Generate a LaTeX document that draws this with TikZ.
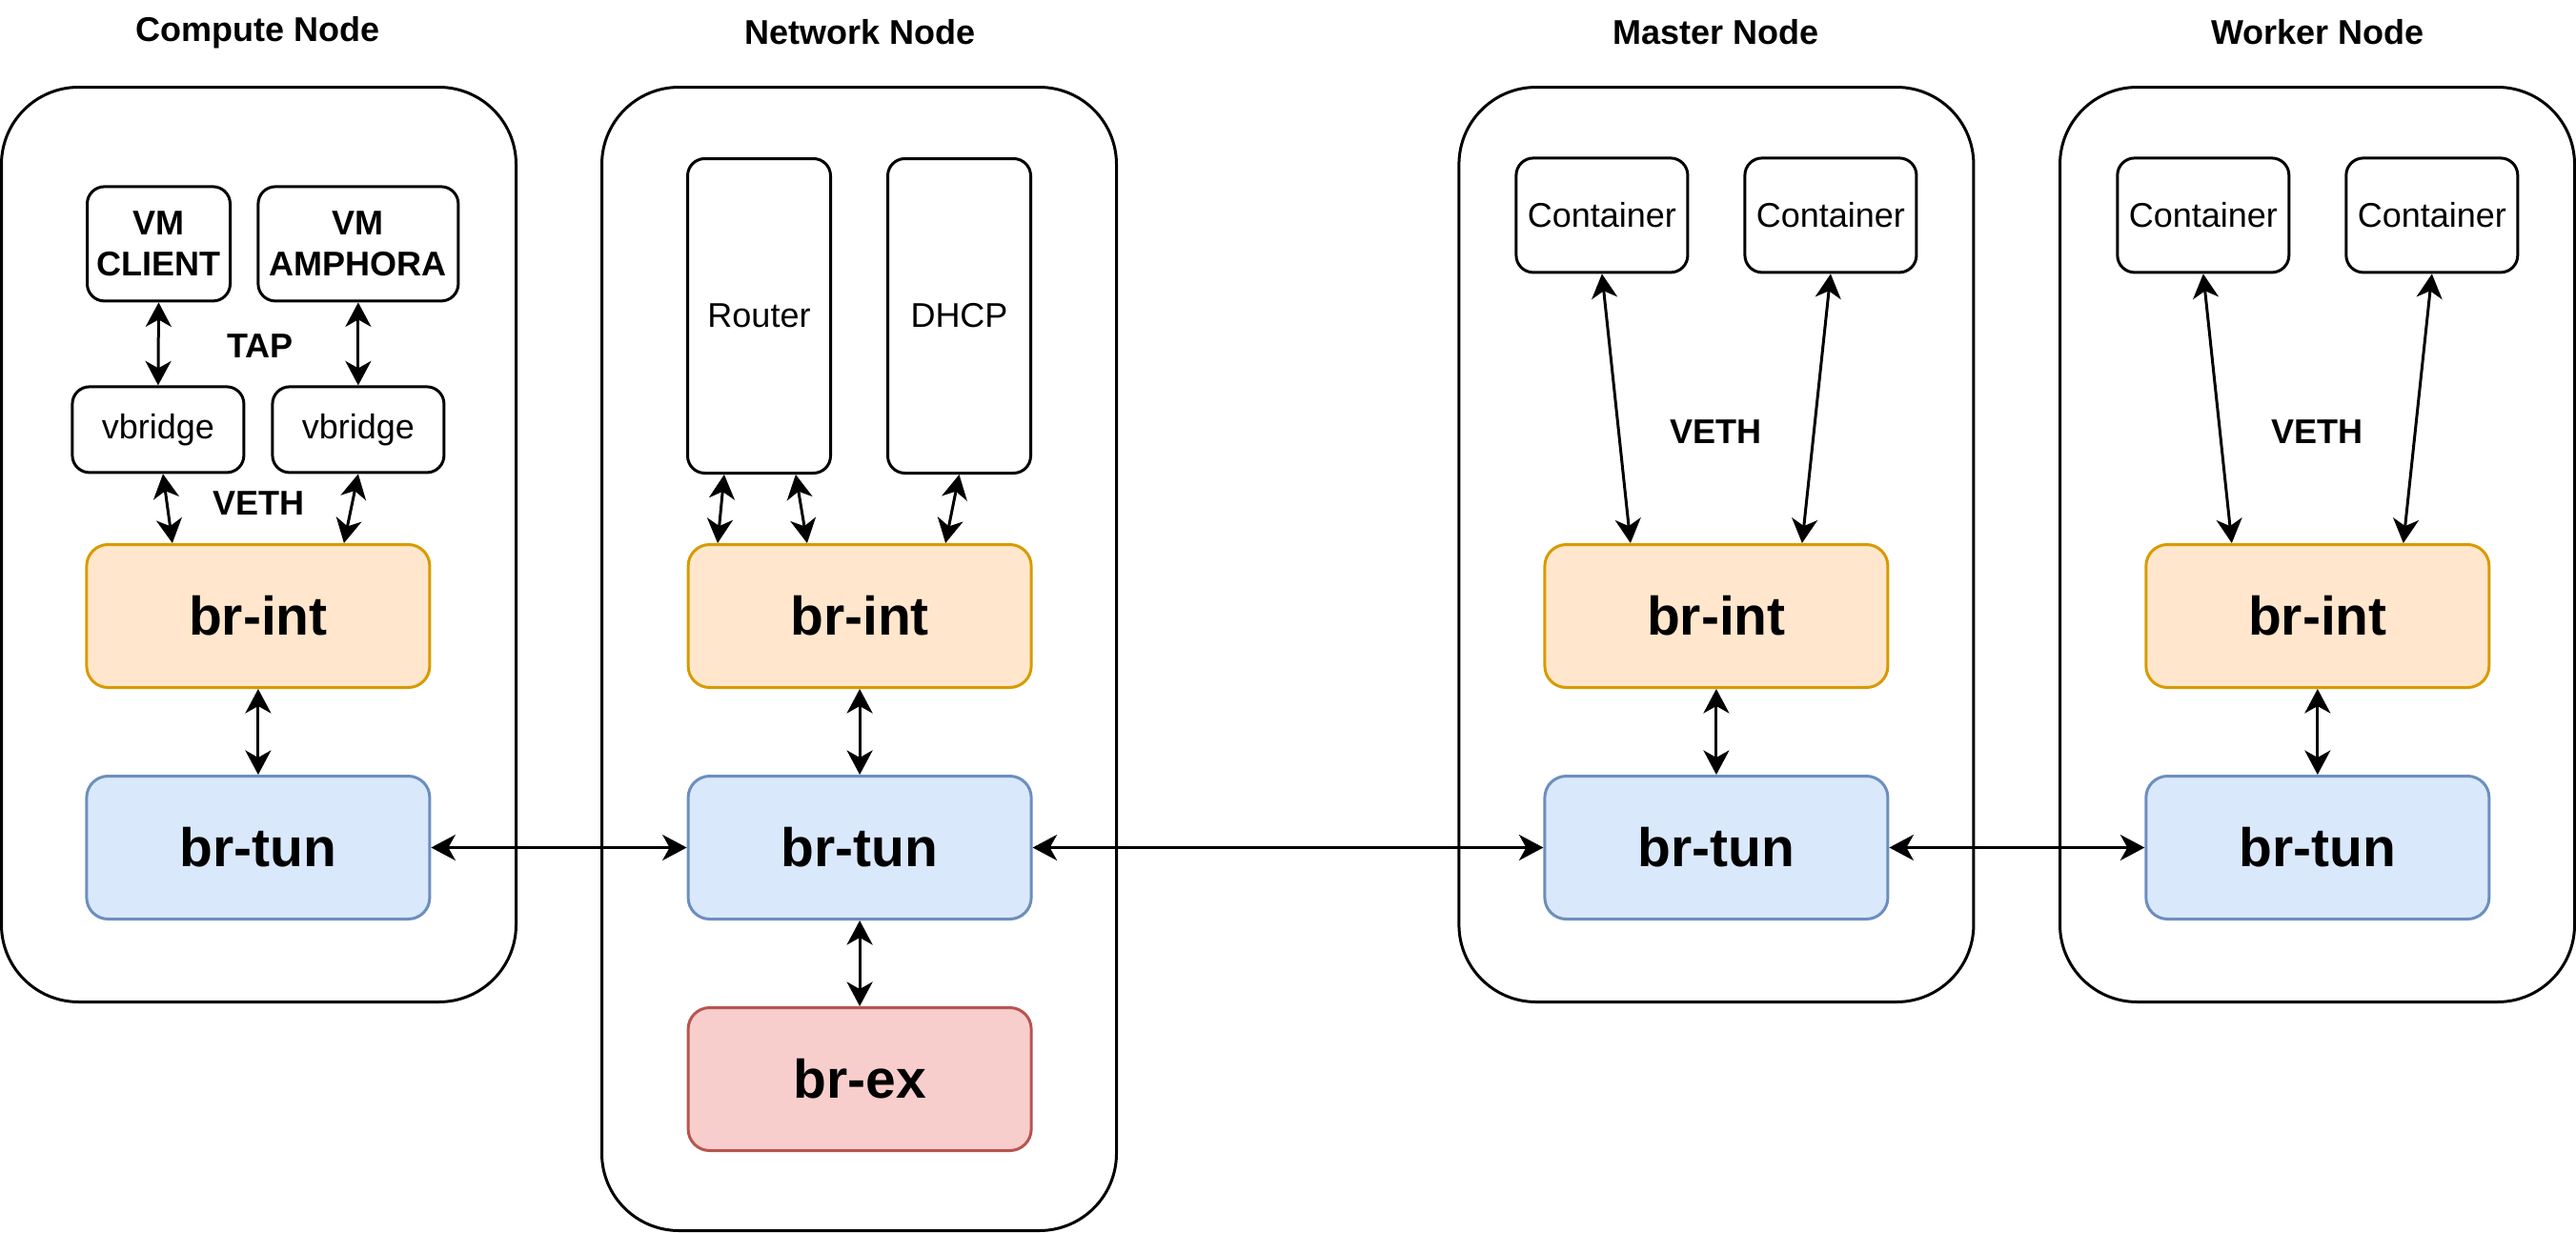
\documentclass[tikz,border=0pt]{standalone}
\usepackage{fontspec}
\setmainfont{Liberation Sans}
\usetikzlibrary{arrows.meta, positioning}
\definecolor{intfill}{HTML}{FFE6CC}
\definecolor{intline}{HTML}{D79B00}
\definecolor{tunfill}{HTML}{DAE8FC}
\definecolor{tunline}{HTML}{6C8EBF}
\definecolor{exfill}{HTML}{F8CECC}
\definecolor{exline}{HTML}{B85450}
\tikzset{
    host/.style = {draw, line width=1pt, rounded corners=27pt, minimum width=180pt, minimum height=320pt},
    box/.style = {draw, line width=1pt, rounded corners=6pt, fill=white, inner sep=0pt, align=center, font=\fontsize{12}{14.4}\selectfont},
    bridge/.style = {draw, line width=1pt, rounded corners=7.5pt, minimum width=120pt, minimum height=50pt, inner sep=0pt, font=\fontsize{19}{22}\selectfont\bfseries},
    brint/.style = {bridge, draw=intline, fill=intfill},
    brtun/.style = {bridge, draw=tunline, fill=tunfill},
    brex/.style = {bridge, draw=exline, fill=exfill},
    title/.style = {font=\fontsize{12}{14.4}\selectfont\bfseries},
    link/.style = {{Stealth[length=8.5pt, width=9pt, inset=2.5pt]}-{Stealth[length=8.5pt, width=9pt, inset=2.5pt]}, line width=1pt}
}

\begin{document}
\begin{tikzpicture}[x=1pt, y=-1pt, node distance=30pt]
  \useasboundingbox (0,0) rectangle (901,431);

  % hosts
  \node[host] (cHost) at (90.5,190.5) {};
  \node[host, minimum height=400pt] (nHost) at (300.5,230.5) {};
  \node[host] (mHost) at (600.3,190.5) {};
  \node[host] (wHost) at (810.5,190.5) {};
  \node[title] (cTitle) at (90.3,11.3) {Compute Node};
  \node[title] (nTitle) at (300.7,11.3) {Network Node};
  \node[title] (mTitle) at (600.3,11.3) {Master Node};
  \node[title] (wTitle) at (810.6,11.3) {Worker Node};

  % compute node
  \node[box, font=\fontsize{12}{14.4}\selectfont\bfseries, minimum width=50pt, minimum height=40pt] (cVmA) at (55.5,85.3) {VM\\CLIENT};
  \node[box, font=\fontsize{12}{14.4}\selectfont\bfseries, minimum width=70pt, minimum height=40pt] (cVmB) at (125.3,85.3) {VM\\AMPHORA};
  \node[box, minimum width=60pt, minimum height=30pt] (cVbA) at (55.3,150.3) {vbridge};
  \node[box, minimum width=60pt, minimum height=30pt] (cVbB) at (125.3,150.3) {vbridge};
  \node[title] (cTap) at (91,121) {TAP};
  \node[title] (cVeth) at (90.5,176) {VETH};
  \node[brint] (cInt) at (90.3,215.5) {br-int};
  \node[brtun, below=of cInt] (cTun) {br-tun};

  % network node
  \node[box, minimum width=50pt, minimum height=110pt] (nRouter) at (265.5,110.5) {Router};
  \node[box, minimum width=50pt, minimum height=110pt] (nDhcp) at (335.5,110.5) {DHCP};
  \node[brint] (nInt) at (300.7,215.5) {br-int};
  \node[brtun, below=of nInt] (nTun) {br-tun};
  \node[brex, below=of nTun] (nEx) {br-ex};

  % master node
  \node[box, minimum width=60pt, minimum height=40pt] (mCa) at (560.3,75.3) {Container};
  \node[box, minimum width=60pt, minimum height=40pt] (mCb) at (640.3,75.3) {Container};
  \node[title] (mVeth) at (600.3,151) {VETH};
  \node[brint] (mInt) at (600.3,215.5) {br-int};
  \node[brtun, below=of mInt] (mTun) {br-tun};

  % worker node
  \node[box, minimum width=60pt, minimum height=40pt] (wCa) at (770.6,75.3) {Container};
  \node[box, minimum width=60pt, minimum height=40pt] (wCb) at (850.6,75.3) {Container};
  \node[title] (wVeth) at (810.6,151) {VETH};
  \node[brint] (wInt) at (810.6,215.5) {br-int};
  \node[brtun, below=of wInt] (wTun) {br-tun};

  % links
  \draw[link] (cVmA.south) -- (cVbA.north);
  \draw[link] (cVmB.south) -- (cVbB.north);
  \draw[link] ([xshift=1.7pt]cVbA.south) -- ([xshift=-30pt]cInt.north);
  \draw[link] (cVbB.south) -- ([xshift=30pt]cInt.north);
  \draw[link] (cInt) -- (cTun);

  \draw[link] ([xshift=-12.2pt]nRouter.south) -- ([xshift=-49.7pt]nInt.north);
  \draw[link] ([xshift=12.8pt]nRouter.south) -- ([xshift=-18.4pt]nInt.north);
  \draw[link] (nDhcp.south) -- ([xshift=30pt]nInt.north);
  \draw[link] (nInt) -- (nTun);
  \draw[link] (nTun) -- (nEx);

  \draw[link] (mCa.south) -- ([xshift=-30pt]mInt.north);
  \draw[link] (mCb.south) -- ([xshift=30pt]mInt.north);
  \draw[link] (mInt) -- (mTun);

  \draw[link] (wCa.south) -- ([xshift=-30pt]wInt.north);
  \draw[link] (wCb.south) -- ([xshift=30pt]wInt.north);
  \draw[link] (wInt) -- (wTun);

  \draw[link] (cTun) -- (nTun);
  \draw[link] (nTun) -- (mTun);
  \draw[link] (mTun) -- (wTun);
\end{tikzpicture}
\end{document}
